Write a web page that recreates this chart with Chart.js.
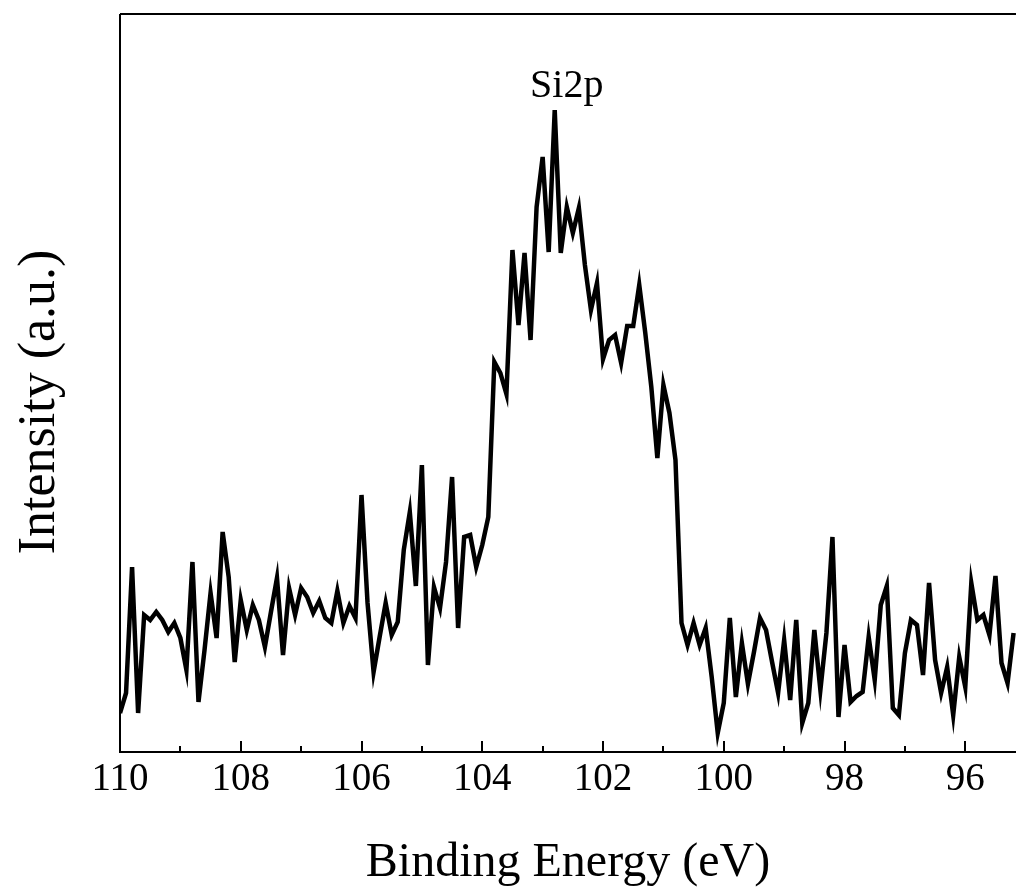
<!DOCTYPE html>
<html>
<head>
<meta charset="utf-8">
<script src="https://cdn.jsdelivr.net/npm/chart.js@4.4.0/dist/chart.umd.min.js"></script>
<style>
  html, body { margin: 0; padding: 0; background: #fff; }
  #wrap { width: 1016px; height: 893px; }
</style>
</head>
<body>
<div id="wrap"><canvas id="graficoXPS"></canvas></div>
<script>
// Datos del espectro Si2p
const energia = [
  110.0, 109.9, 109.8, 109.7, 109.6, 109.5, 109.4, 109.3, 109.2, 109.1,
  109.0, 108.9, 108.8, 108.7, 108.6, 108.5, 108.4, 108.3, 108.2, 108.1,
  108.0, 107.9, 107.8, 107.7, 107.6, 107.5, 107.4, 107.3, 107.2, 107.1,
  107.0, 106.9, 106.8, 106.7, 106.6, 106.5, 106.4, 106.3, 106.2, 106.1,
  106.0, 105.9, 105.8, 105.7, 105.6, 105.5, 105.4, 105.3, 105.2, 105.1,
  105.0, 104.9, 104.8, 104.7, 104.6, 104.5, 104.4, 104.3, 104.2, 104.1,
  104.0, 103.9, 103.8, 103.7, 103.6, 103.5, 103.4, 103.3, 103.2, 103.1,
  103.0, 102.9, 102.8, 102.7, 102.6, 102.5, 102.4, 102.3, 102.2, 102.1,
  102.0, 101.9, 101.8, 101.7, 101.6, 101.5, 101.4, 101.3, 101.2, 101.1,
  101.0, 100.9, 100.8, 100.7, 100.6, 100.5, 100.4, 100.3, 100.2, 100.1,
  100.0, 99.9, 99.8, 99.7, 99.6, 99.5, 99.4, 99.3, 99.2, 99.1,
  99.0, 98.9, 98.8, 98.7, 98.6, 98.5, 98.4, 98.3, 98.2, 98.1,
  98.0, 97.9, 97.8, 97.7, 97.6, 97.5, 97.4, 97.3, 97.2, 97.1,
  97.0, 96.9, 96.8, 96.7, 96.6, 96.5, 96.4, 96.3, 96.2, 96.1,
  96.0, 95.9, 95.8, 95.7, 95.6, 95.5, 95.4, 95.3, 95.2
];
const intensidad = [
  39, 59, 185, 39, 137, 132, 140, 132, 120, 129,
  114, 82, 190, 50, 102, 159, 114, 220, 175, 90,
  152, 122, 147, 132, 105, 140, 174, 97, 164, 137,
  164, 155, 139, 151, 134, 129, 161, 129, 146, 134,
  257, 149, 80, 115, 149, 117, 130, 202, 240, 166,
  287, 87, 165, 144, 190, 275, 124, 215, 217, 185,
  207, 235, 390, 379, 358, 502, 427, 499, 412, 545,
  595, 500, 642, 499, 545, 519, 544, 487, 442, 469,
  393, 412, 417, 389, 426, 426, 467, 419, 365, 294,
  367, 339, 292, 129, 107, 129, 107, 124, 75, 19,
  49, 134, 55, 109, 68, 100, 134, 122, 90, 59,
  112, 52, 132, 29, 49, 122, 62, 119, 215, 35,
  107, 50, 56, 60, 115, 72, 147, 166, 44, 37,
  99, 132, 127, 77, 169, 92, 59, 85, 37, 95,
  65, 169, 132, 137, 117, 176, 89, 69, 119
];
const ticksMayores = [110, 108, 106, 104, 102, 100, 98, 96];
const ticksMenores = [109, 107, 105, 103, 101, 99, 97];
const etiquetaPico = 'Si2p';
const energiaPico = 102.6;

const fuente = "'Liberation Serif', 'Times New Roman', serif";

// Marco, ticks hacia adentro y textos extra
const marcoPlugin = {
  id: 'marco',
  afterDraw(chart) {
    const { ctx, chartArea: a, scales: { x } } = chart;
    ctx.save();
    ctx.strokeStyle = '#000';
    ctx.lineWidth = 2;
    ctx.beginPath();
    ctx.moveTo(a.left, a.top);
    ctx.lineTo(a.right, a.top);
    ctx.moveTo(a.left, a.top);
    ctx.lineTo(a.left, a.bottom);
    ctx.lineTo(a.right, a.bottom);
    ticksMayores.forEach(v => {
      const px = Math.round(x.getPixelForValue(v));
      ctx.moveTo(px, a.bottom);
      ctx.lineTo(px, a.bottom - 11);
    });
    ticksMenores.forEach(v => {
      const px = Math.round(x.getPixelForValue(v));
      ctx.moveTo(px, a.bottom);
      ctx.lineTo(px, a.bottom - 6);
    });
    ctx.stroke();

    ctx.fillStyle = '#000';
    ctx.textAlign = 'center';
    ctx.textBaseline = 'alphabetic';
    ctx.font = '40px ' + fuente;
    ctx.fillText(etiquetaPico, x.getPixelForValue(energiaPico), 97);

    // titulo del eje y
    ctx.translate(54, 402);
    ctx.rotate(-Math.PI / 2);
    ctx.font = '52px ' + fuente;
    ctx.fillText('Intensity (a.u.)', 0, 0);
    ctx.restore();
  }
};

const ctx = document.getElementById('graficoXPS').getContext('2d');
new Chart(ctx, {
  type: 'line',
  data: {
    datasets: [{
      label: 'Si2p',
      data: energia.map((e, i) => ({ x: e, y: intensidad[i] })),
      borderColor: '#000',
      borderWidth: 4.5,
      pointRadius: 0,
      tension: 0,
      fill: false
    }]
  },
  options: {
    responsive: true,
    maintainAspectRatio: false,
    animation: false,
    layout: { padding: { top: 14, right: 0, bottom: 0, left: 0 } },
    plugins: {
      legend: { display: false },
      tooltip: { enabled: false }
    },
    scales: {
      x: {
        type: 'linear',
        reverse: true,
        min: 95.16,
        max: 110,
        afterBuildTicks: s => { s.ticks = ticksMayores.map(v => ({ value: v })); },
        afterFit: s => { s.height = 141; },
        grid: { display: false, drawTicks: false },
        border: { display: false },
        ticks: {
          color: '#000',
          padding: 4,
          maxRotation: 0,
          font: { family: fuente, size: 39 }
        },
        title: {
          display: true,
          text: 'Binding Energy (eV)',
          color: '#000',
          font: { family: fuente, size: 48, lineHeight: 1.2 },
          padding: { top: 0, bottom: 1 }
        }
      },
      y: {
        min: 0,
        max: 738,
        afterFit: s => { s.width = 120; },
        grid: { display: false, drawTicks: false },
        border: { display: false },
        ticks: { display: false }
      }
    }
  },
  plugins: [marcoPlugin]
});
</script>
</body>
</html>
